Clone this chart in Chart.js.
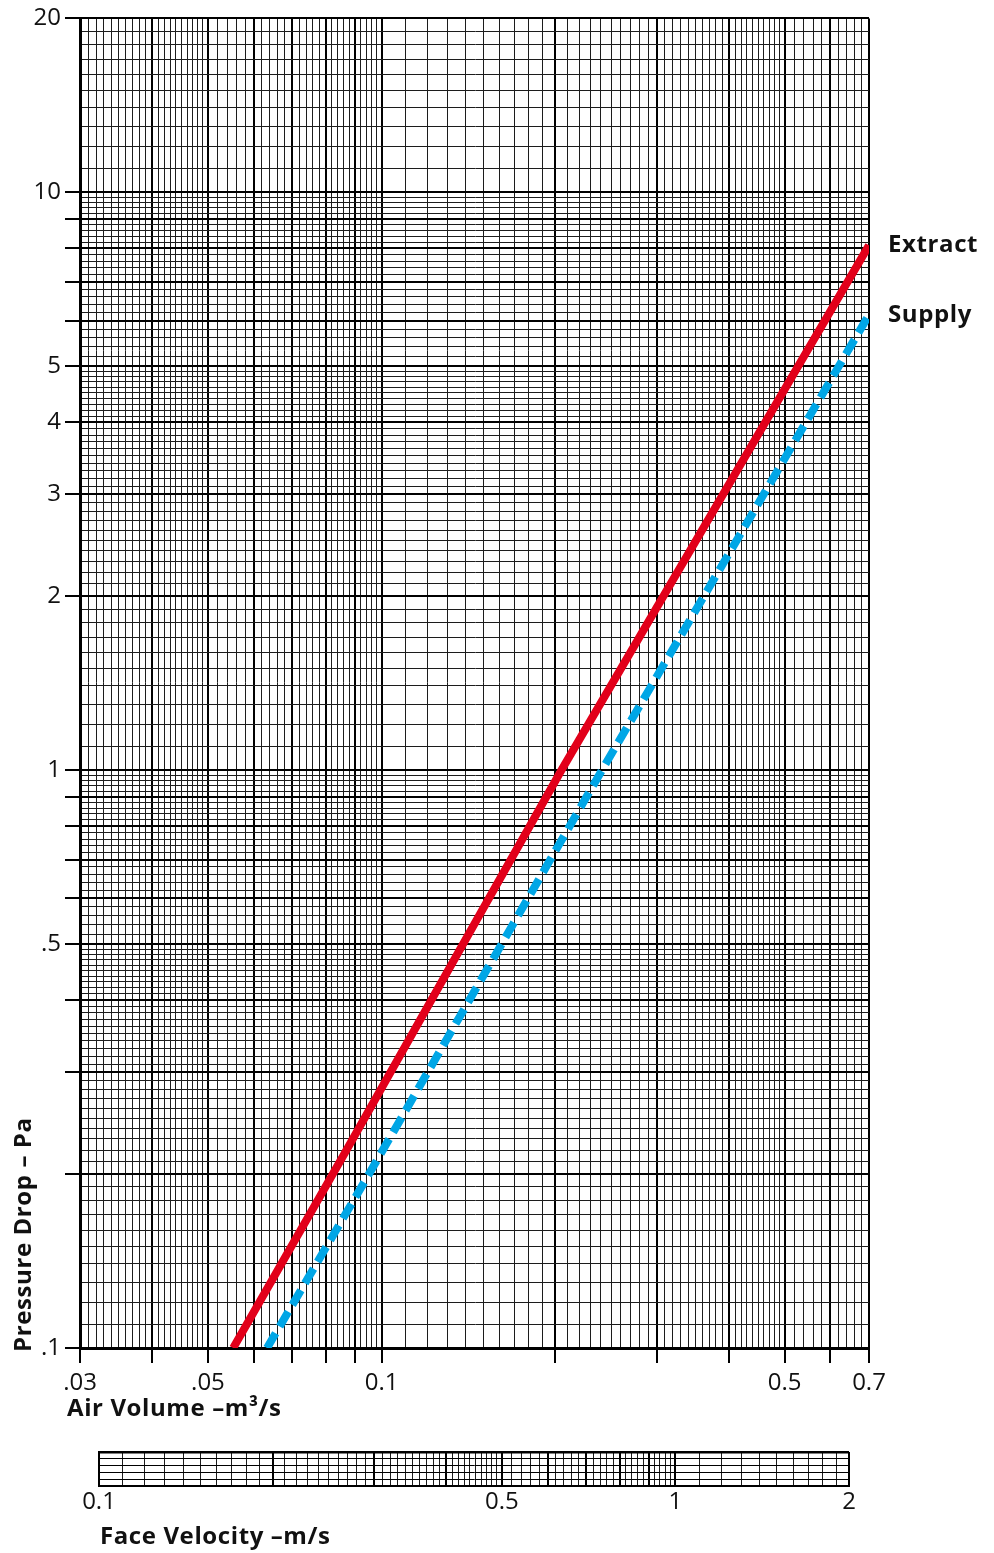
<!DOCTYPE html>
<html>
<head>
<meta charset="utf-8">
<title>Pressure drop</title>
<script src="https://cdn.jsdelivr.net/npm/chart.js@4.4.1/dist/chart.umd.min.js"></script>
<style>
  html, body { margin: 0; padding: 0; background: #fff; }
  #wrap { position: relative; width: 994px; height: 1553px; }
  #mainChart { position: absolute; left: 0; top: 0; }
  #faceChart { position: absolute; left: 0; top: 1400px; }
</style>
</head>
<body>
<div id="wrap">
  <canvas id="mainChart" width="994" height="1553"></canvas>
  <canvas id="faceChart" width="994" height="153"></canvas>
</div>
<script>
const FONT = '"Open Sans", "Noto Sans", sans-serif';

// air volume (m3/s) -> pressure drop (Pa)
const extractFlow = [0.0553, 0.0867, 0.205, 0.7];
const extractDrop = [0.1, 0.219, 1.0, 8.1];
const supplyFlow = [0.0633, 0.0951, 0.241, 0.7];
const supplyDrop = [0.1, 0.2, 1.0, 6.14];

const xTickValues = [0.03, 0.05, 0.1, 0.5, 0.7];
const xTickLabels = ['.03', '.05', '0.1', '0.5', '0.7'];
const yTickValues = [0.1, 0.5, 1, 2, 3, 4, 5, 10, 20];
const yTickLabels = ['.1', '.5', '1', '2', '3', '4', '5', '10', '20'];
const velTickValues = [0.1, 0.5, 1, 2];
const velTickLabels = ['0.1', '0.5', '1', '2'];

// log paper ruling: [from, to, step]
const xRuling = [[0.03, 0.05, 0.001], [0.05, 0.1, 0.002], [0.1, 0.5, 0.01], [0.5, 0.7, 0.02]];
const yRuling = [[0.1, 0.5, 0.01], [0.5, 1, 0.02], [1, 5, 0.1], [5, 10, 0.2], [10, 20, 1]];
const velRuling = [[0.1, 0.5, 0.01], [0.5, 1, 0.02], [1, 2, 0.1]];

function ruledTicks(spec) {
    const out = [];
    spec.forEach(([lo, hi, step]) => {
        const n = Math.round((hi - lo) / step);
        for (let i = 0; i <= n; i++) {
            const v = +(lo + i * step).toPrecision(8);
            if (!out.length || Math.abs(out[out.length - 1] - v) > 1e-9) out.push(v);
        }
    });
    return out.map(v => ({ value: v }));
}

function isMajor(v) {
    const p = Math.pow(10, Math.floor(Math.log10(v) + 1e-9));
    const m = v / p;
    return Math.abs(m - Math.round(m)) < 1e-6;
}

function labelFor(values, labels) {
    return (v) => {
        const i = values.findIndex(t => Math.abs(t - v) < t * 1e-6);
        return i < 0 ? '' : labels[i];
    };
}

function toPoints(xs, ys) {
    return xs.map((x, i) => ({ x: x, y: ys[i] }));
}

const major = c => c.tick && isMajor(c.tick.value);

const paperGrid = {
    color: c => major(c) ? '#000' : '#1c1c1c',
    lineWidth: c => major(c) ? 2 : 1,
    drawTicks: true,
    tickLength: 15,
    tickWidth: 2,
    tickColor: c => major(c) ? '#000' : 'rgba(0,0,0,0)'
};

const tickFont = { family: FONT, size: 24 };

function boldText(ctx, size) {
    ctx.font = 'bold ' + size + 'px ' + FONT;
    ctx.letterSpacing = '0.6px';
}

// series names at the line ends plus the axis titles
const labelsPlugin = {
    id: 'paperLabels',
    afterDraw(chart) {
        const ctx = chart.ctx;
        const area = chart.chartArea;
        const y = chart.scales.y;
        ctx.save();
        ctx.fillStyle = '#111';
        ctx.textBaseline = 'alphabetic';
        boldText(ctx, 24);
        chart.data.datasets.forEach(ds => {
            const last = ds.data[ds.data.length - 1];
            ctx.fillText(ds.label, area.right + 19, y.getPixelForValue(last.y) + 7);
        });
        ctx.fillText('Air Volume \u2013m\u00b3/s', 67, 1416);
        ctx.translate(31, 1352);
        ctx.rotate(-Math.PI / 2);
        ctx.fillText('Pressure Drop \u2013 Pa', 0, 0);
        ctx.restore();
    }
};

new Chart(document.getElementById('mainChart'), {
    type: 'line',
    data: {
        datasets: [
            {
                label: 'Extract',
                data: toPoints(extractFlow, extractDrop),
                borderColor: '#e2001a',
                borderWidth: 8,
                pointRadius: 0,
                tension: 0,
                clip: 0
            },
            {
                label: 'Supply',
                data: toPoints(supplyFlow, supplyDrop),
                borderColor: '#00a6e6',
                borderWidth: 8,
                borderDash: [17, 8],
                pointRadius: 0,
                tension: 0,
                clip: 0
            }
        ]
    },
    options: {
        responsive: false,
        animation: false,
        devicePixelRatio: 1,
        layout: { padding: { left: 0, top: 15, right: 125, bottom: 145 } },
        plugins: { legend: { display: false }, tooltip: { enabled: false } },
        scales: {
            x: {
                type: 'logarithmic',
                min: 0.03,
                max: 0.7,
                afterBuildTicks: s => { s.ticks = ruledTicks(xRuling); },
                afterFit: s => { s.height = 60; },
                ticks: { autoSkip: false, maxRotation: 0, padding: 6, color: '#111', font: tickFont,
                         callback: labelFor(xTickValues, xTickLabels) },
                grid: paperGrid,
                border: { color: '#000', width: 3 }
            },
            y: {
                type: 'logarithmic',
                min: 0.1,
                max: 20,
                afterBuildTicks: s => { s.ticks = ruledTicks(yRuling); },
                afterFit: s => { s.width = 80; },
                ticks: { autoSkip: false, padding: 4, color: '#111', font: tickFont,
                         callback: labelFor(yTickValues, yTickLabels) },
                grid: paperGrid,
                border: { color: '#000', width: 3 }
            }
        }
    },
    plugins: [labelsPlugin]
});

// face velocity strip under the main chart
const velTitle = {
    id: 'velTitle',
    afterDraw(chart) {
        const ctx = chart.ctx;
        ctx.save();
        ctx.fillStyle = '#111';
        boldText(ctx, 24);
        ctx.fillText('Face Velocity \u2013m/s', 100, 144);
        ctx.restore();
    }
};

new Chart(document.getElementById('faceChart'), {
    type: 'scatter',
    data: { datasets: [] },
    options: {
        responsive: false,
        animation: false,
        devicePixelRatio: 1,
        layout: { padding: { left: 99, top: 52, right: 145, bottom: 37 } },
        plugins: { legend: { display: false }, tooltip: { enabled: false } },
        scales: {
            x: {
                type: 'logarithmic',
                min: 0.1,
                max: 2,
                afterBuildTicks: s => { s.ticks = ruledTicks(velRuling); },
                afterFit: s => { s.height = 30; },
                ticks: { autoSkip: false, maxRotation: 0, padding: 2, color: '#111', font: tickFont,
                         callback: labelFor(velTickValues, velTickLabels) },
                grid: {
                    color: c => major(c) ? '#000' : '#1c1c1c',
                    lineWidth: c => major(c) ? 2 : 1,
                    drawTicks: false
                },
                border: { color: '#000', width: 2 }
            },
            y: {
                type: 'linear',
                min: 0,
                max: 5,
                afterFit: s => { s.width = 0; },
                ticks: { display: false, stepSize: 1 },
                grid: {
                    color: '#000',
                    lineWidth: c => (c.tick && c.tick.value === 5) ? 2.5 : 1,
                    drawTicks: false
                },
                border: { color: '#000', width: 2 }
            }
        }
    },
    plugins: [velTitle]
});
</script>
</body>
</html>
